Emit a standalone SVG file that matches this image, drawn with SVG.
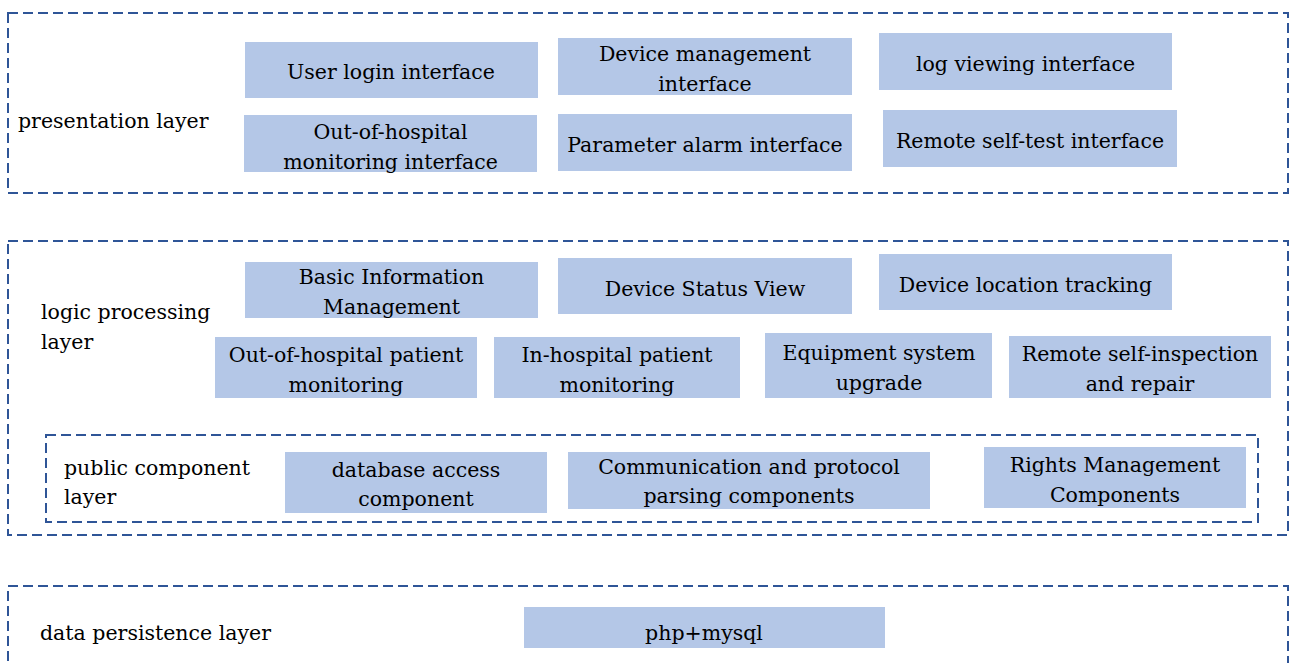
<svg xmlns="http://www.w3.org/2000/svg" width="1290" height="663" viewBox="0 0 1290 663">
<style>
.layer{fill:none;stroke:#2F5597;stroke-width:2;stroke-dasharray:10 5}
.box{fill:#B4C7E7}
.c{text-anchor:middle}
</style>
<rect width="1290" height="663" fill="#fff"/>
<g font-family="'DejaVu Serif', 'Liberation Serif', serif" font-size="20.5" fill="#000">
<g id="presentation-layer">
<rect class="layer" x="8" y="13" width="1280" height="180"/>
<text x="18" y="128">presentation layer</text>
</g>
<g id="user-login"><rect class="box" x="245" y="42" width="293" height="56"/><text class="c" x="391" y="79">User login interface</text></g>
<g id="device-management"><rect class="box" x="558" y="38" width="294" height="57"/><text class="c" x="705" y="61">Device management</text><text class="c" x="705" y="91">interface</text></g>
<g id="log-viewing"><rect class="box" x="879" y="33" width="293" height="57"/><text class="c" x="1025.5" y="71">log viewing interface</text></g>
<g id="out-hospital-monitoring-interface"><rect class="box" x="244" y="115" width="293" height="57"/><text class="c" x="390.5" y="139">Out-of-hospital</text><text class="c" x="390.5" y="169">monitoring interface</text></g>
<g id="parameter-alarm"><rect class="box" x="558" y="114" width="294" height="57"/><text class="c" x="705" y="152">Parameter alarm interface</text></g>
<g id="remote-self-test"><rect class="box" x="883" y="110" width="294" height="57"/><text class="c" x="1030" y="148">Remote self-test interface</text></g>

<g id="logic-layer">
<rect class="layer" x="8" y="241" width="1280" height="294"/>
<text x="41" y="319">logic processing</text>
<text x="41" y="349">layer</text>
</g>
<g id="basic-info"><rect class="box" x="245" y="262" width="293" height="56"/><text class="c" x="391.5" y="284">Basic Information</text><text class="c" x="391.5" y="314">Management</text></g>
<g id="device-status"><rect class="box" x="558" y="258" width="294" height="56"/><text class="c" x="705" y="296">Device Status View</text></g>
<g id="device-location"><rect class="box" x="879" y="254" width="293" height="56"/><text class="c" x="1025.5" y="292">Device location tracking</text></g>
<g id="out-hospital-patient"><rect class="box" x="215" y="337" width="262" height="61"/><text class="c" x="346" y="362">Out-of-hospital patient</text><text class="c" x="346" y="392">monitoring</text></g>
<g id="in-hospital-patient"><rect class="box" x="494" y="337" width="246" height="61"/><text class="c" x="617" y="362">In-hospital patient</text><text class="c" x="617" y="392">monitoring</text></g>
<g id="equipment-upgrade"><rect class="box" x="765" y="333" width="227" height="65"/><text class="c" x="879" y="360">Equipment system</text><text class="c" x="879" y="390">upgrade</text></g>
<g id="remote-inspection"><rect class="box" x="1009" y="336" width="262" height="62"/><text class="c" x="1140" y="361">Remote self-inspection</text><text class="c" x="1140" y="391">and repair</text></g>

<g id="public-component-layer">
<rect class="layer" x="46" y="435" width="1212" height="87"/>
<text x="64" y="475">public component</text>
<text x="64" y="504">layer</text>
</g>
<g id="database-access"><rect class="box" x="285" y="452" width="262" height="61"/><text class="c" x="416" y="477">database access</text><text class="c" x="416" y="506">component</text></g>
<g id="communication"><rect class="box" x="568" y="452" width="362" height="57"/><text class="c" x="749" y="474">Communication and protocol</text><text class="c" x="749" y="503">parsing components</text></g>
<g id="rights-management"><rect class="box" x="984" y="447" width="262" height="61"/><text class="c" x="1115" y="472">Rights Management</text><text class="c" x="1115" y="502">Components</text></g>

<g id="data-layer">
<rect class="layer" x="8" y="586" width="1280" height="100"/>
<text x="40" y="640">data persistence layer</text>
</g>
<g id="php-mysql"><rect class="box" x="524" y="607" width="361" height="41"/><text class="c" x="704" y="640">php+mysql</text></g>
</g>
<g id="connectors"></g>
</svg>
